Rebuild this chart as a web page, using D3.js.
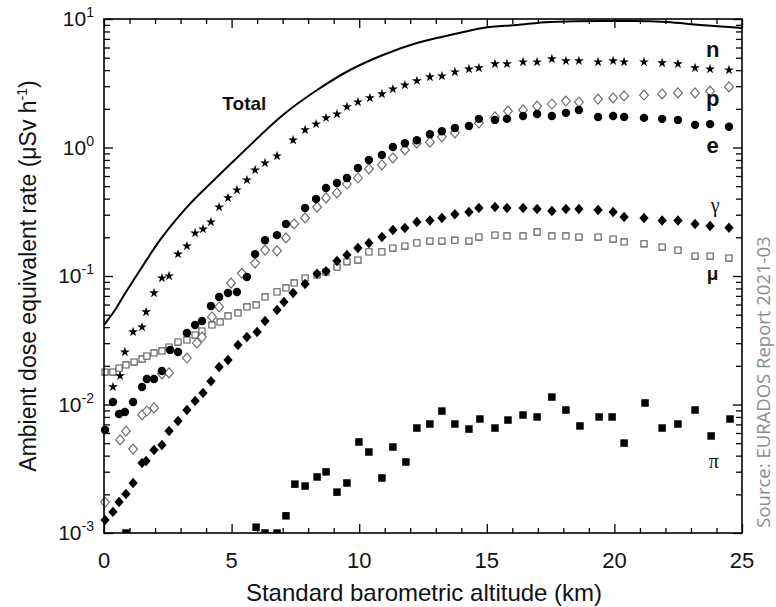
<!DOCTYPE html>
<html>
<head>
<meta charset="utf-8">
<script src="https://cdn.jsdelivr.net/npm/d3@7"></script>
<style>
  html, body { margin: 0; padding: 0; background: #fff; }
  svg { display: block; }
</style>
</head>
<body>
<svg id="chart" width="776" height="607"></svg>
<script>
// Ambient dose equivalent rate by particle type vs. altitude
// Each series: [altitude km, rate µSv/h]
const totalPts = [
  [0, 0.0416], [0.43, 0.0543], [0.74, 0.0687], [1.41, 0.111], [2.19, 0.190],
  [3.25, 0.344], [4.43, 0.589], [5.53, 0.957], [7.01, 1.79], [8.35, 2.80],
  [9.64, 4.01], [10.93, 5.25], [12.26, 6.50], [13.56, 7.50], [14.85, 8.51],
  [16.18, 8.98], [17.48, 9.48], [19.44, 9.65], [20.73, 9.65], [22.06, 9.48],
  [23.35, 8.98], [25.0, 8.51]
];
const neutronPts = [
  [0.35, 0.0137], [0.63, 0.0167], [0.82, 0.0256], [1.14, 0.0367], [1.49, 0.040],
  [1.65, 0.0525], [1.96, 0.0738], [2.27, 0.0964], [2.55, 0.100], [2.90, 0.148],
  [3.25, 0.171], [3.57, 0.216], [3.88, 0.232], [4.19, 0.263], [4.51, 0.344],
  [4.86, 0.405], [5.21, 0.467], [5.60, 0.558], [5.92, 0.668], [6.31, 0.757],
  [6.78, 0.859], [7.41, 1.14], [7.88, 1.37], [8.31, 1.52], [8.70, 1.70],
  [9.13, 1.82], [9.52, 2.07], [9.95, 2.26], [10.42, 2.43], [10.89, 2.61],
  [11.32, 2.85], [11.79, 3.06], [12.26, 3.30], [12.77, 3.54], [13.24, 3.60],
  [13.75, 3.87], [14.30, 4.08], [14.69, 4.16], [15.32, 4.47], [15.79, 4.47],
  [16.42, 4.63], [16.97, 4.63], [17.55, 4.89], [18.10, 4.72], [18.61, 4.72],
  [19.36, 4.63], [19.95, 4.72], [20.38, 4.63], [21.16, 4.63], [21.87, 4.55],
  [22.49, 4.47], [23.16, 4.16], [23.75, 4.08], [24.49, 4.01]
];
const protonPts = [
  [0.04, 0.00174], [0.63, 0.0053], [0.86, 0.0062], [1.14, 0.0045], [1.49, 0.0083],
  [1.68, 0.0089], [1.96, 0.0094], [2.27, 0.0173], [2.55, 0.0176], [3.25, 0.0230],
  [3.64, 0.0301], [3.84, 0.0335], [4.23, 0.048], [4.51, 0.0574], [4.98, 0.088],
  [5.40, 0.105], [5.92, 0.126], [6.31, 0.159], [6.78, 0.157], [7.13, 0.198],
  [7.45, 0.254], [7.88, 0.283], [8.35, 0.344], [8.70, 0.405], [9.13, 0.443],
  [9.52, 0.520], [9.95, 0.579], [10.38, 0.681], [10.89, 0.731], [11.32, 0.829],
  [11.79, 0.957], [12.26, 1.08], [12.77, 1.10], [13.24, 1.21], [13.75, 1.30],
  [14.69, 1.55], [15.32, 1.73], [15.83, 1.92], [16.42, 1.96], [16.97, 2.10],
  [17.55, 2.18], [18.10, 2.30], [18.61, 2.26], [19.36, 2.38], [19.95, 2.43],
  [20.38, 2.52], [21.16, 2.56], [21.87, 2.61], [22.49, 2.66], [23.16, 2.66],
  [23.75, 2.75], [24.49, 2.96]
];
const electronPts = [
  [0.04, 0.00634], [0.35, 0.01045], [0.59, 0.00843], [0.82, 0.00875], [1.14, 0.01045],
  [1.49, 0.0137], [1.68, 0.0158], [1.96, 0.0158], [2.27, 0.0182], [2.59, 0.0266],
  [2.90, 0.0256], [3.25, 0.036], [3.57, 0.0416], [3.84, 0.0447], [4.19, 0.0585],
  [4.51, 0.0687], [4.86, 0.0738], [5.21, 0.0752], [5.60, 0.0982], [5.92, 0.148],
  [6.31, 0.190], [6.78, 0.208], [7.13, 0.254], [7.88, 0.338], [8.31, 0.397],
  [8.70, 0.484], [9.13, 0.530], [9.52, 0.579], [9.95, 0.692], [10.38, 0.800],
  [10.89, 0.875], [11.32, 1.01], [11.79, 1.08], [12.26, 1.14], [12.77, 1.27],
  [13.24, 1.34], [13.75, 1.42], [14.30, 1.47], [14.69, 1.67], [15.32, 1.64],
  [15.79, 1.67], [16.42, 1.76], [16.97, 1.82], [17.55, 1.76], [18.10, 1.86],
  [18.61, 1.96], [19.36, 1.73], [19.95, 1.76], [20.38, 1.73], [21.16, 1.70],
  [21.87, 1.67], [22.49, 1.64], [23.16, 1.50], [23.75, 1.52], [24.49, 1.45]
];
const photonPts = [
  [0.04, 0.00126], [0.35, 0.00146], [0.59, 0.00174], [0.86, 0.00201], [1.14, 0.00245],
  [1.49, 0.00351], [1.65, 0.00363], [1.96, 0.00442], [2.27, 0.00484], [2.55, 0.00622],
  [2.90, 0.00745], [3.25, 0.00907], [3.57, 0.01064], [3.88, 0.0123], [4.19, 0.0152],
  [4.51, 0.0196], [4.86, 0.0222], [5.25, 0.0290], [5.60, 0.0335], [6.00, 0.0367],
  [6.31, 0.0447], [6.78, 0.0543], [7.05, 0.0628], [7.41, 0.0738], [7.88, 0.0867],
  [8.35, 0.104], [8.70, 0.109], [9.13, 0.131], [9.52, 0.146], [9.95, 0.165],
  [10.38, 0.181], [10.89, 0.201], [11.32, 0.228], [11.79, 0.236], [12.26, 0.263],
  [12.77, 0.270], [13.24, 0.283], [13.75, 0.303], [14.30, 0.315], [14.69, 0.338],
  [15.32, 0.344], [15.79, 0.338], [16.42, 0.338], [16.97, 0.332], [17.55, 0.321],
  [18.10, 0.332], [18.61, 0.332], [19.36, 0.326], [19.95, 0.315], [20.38, 0.288],
  [21.16, 0.283], [21.87, 0.270], [22.49, 0.270], [23.16, 0.254], [23.75, 0.245],
  [24.49, 0.237]
];
const muonPts = [
  [0.04, 0.0179], [0.35, 0.0179], [0.59, 0.0192], [0.86, 0.0203], [1.18, 0.0214],
  [1.49, 0.0226], [1.68, 0.0238], [1.96, 0.0252], [2.27, 0.0261], [2.55, 0.0280],
  [2.90, 0.0306], [3.25, 0.0318], [3.57, 0.0347], [3.84, 0.0373], [4.23, 0.0416],
  [4.55, 0.0439], [4.86, 0.0489], [5.25, 0.0516], [5.60, 0.0574], [5.96, 0.0595],
  [6.31, 0.0687], [6.78, 0.0752], [7.13, 0.0807], [7.45, 0.0883], [7.88, 0.0964],
  [8.35, 0.102], [8.70, 0.107], [9.13, 0.117], [9.52, 0.129], [9.95, 0.133],
  [10.38, 0.154], [10.89, 0.154], [11.32, 0.165], [11.79, 0.171], [12.26, 0.181],
  [12.77, 0.187], [13.24, 0.187], [13.75, 0.190], [14.30, 0.187], [14.69, 0.201],
  [15.32, 0.208], [15.79, 0.205], [16.42, 0.205], [16.97, 0.220], [17.55, 0.205],
  [18.10, 0.205], [18.61, 0.201], [19.36, 0.201], [19.95, 0.194], [20.38, 0.184],
  [21.16, 0.178], [21.87, 0.168], [22.49, 0.159], [23.16, 0.143], [23.75, 0.143],
  [24.49, 0.138]
];
const pionPts = [
  [0.86, 0.00100], [5.96, 0.00111], [6.31, 0.00100], [6.78, 0.00100], [7.13, 0.00136],
  [7.48, 0.00240], [7.88, 0.00232], [8.35, 0.00273], [8.70, 0.00299], [9.13, 0.00208],
  [9.52, 0.00245], [9.99, 0.00511], [10.38, 0.00427], [10.89, 0.00268], [11.32, 0.00467],
  [11.83, 0.00357], [12.26, 0.00656], [12.77, 0.00705], [13.24, 0.00889], [13.75, 0.00705],
  [14.30, 0.00644], [14.73, 0.00771], [15.32, 0.00656], [15.83, 0.00757], [16.42, 0.00828],
  [16.97, 0.00800], [17.55, 0.01143], [18.10, 0.00906], [18.65, 0.00681], [19.40, 0.00800],
  [19.91, 0.00800], [20.38, 0.00501], [21.20, 0.01028], [21.87, 0.00656], [22.49, 0.00705],
  [23.16, 0.00906], [23.79, 0.00569], [24.53, 0.00771]
];

const xTicksMajor = [0, 5, 10, 15, 20, 25];
const yDecades = [1e-3, 1e-2, 1e-1, 1e0, 1e1];
const yExponents = ["-3", "-2", "-1", "0", "1"];

const xTitle = "Standard barometric altitude (km)";
const yTitle = "Ambient dose equivalent rate (\u03BCSv h";
const sourceNote = "Source: EURADOS Report 2021-03";

// Layout
const L = 104, R = 742, T = 19, B = 533;
const svg = d3.select("#chart");
const sans = "'Liberation Sans', Arial, Helvetica, sans-serif";
const serif = "'Liberation Serif', 'Times New Roman', serif";

const x = d3.scaleLinear().domain([0, 25]).range([L, R]);
const y = d3.scaleLog().domain([1e-3, 1e1]).range([B, T]);

// Clip marks at the baseline only
svg.append("defs").append("clipPath").attr("id", "plotClip")
  .append("rect").attr("x", 0).attr("y", T - 10).attr("width", 776).attr("height", B - T + 10);

const marks = svg.append("g").attr("clip-path", "url(#plotClip)");

// Total dose line
marks.append("path")
  .datum(totalPts)
  .attr("fill", "none")
  .attr("stroke", "#000")
  .attr("stroke-width", 2)
  .attr("d", d3.line().x(d => x(d[0])).y(d => y(d[1])).curve(d3.curveMonotoneX));

function drawSymbols(data, type, size, fill, stroke, sw) {
  marks.append("g").selectAll("path").data(data).join("path")
    .attr("d", d3.symbol().type(type).size(size))
    .attr("transform", d => `translate(${x(d[0])},${y(d[1])})`)
    .attr("fill", fill)
    .attr("stroke", stroke)
    .attr("stroke-width", sw);
}

// Diamond shape (slightly taller than wide)
const diamond = {
  draw(ctx, size) {
    const h = Math.sqrt(size) / 2, w = h * 0.88;
    ctx.moveTo(0, -h); ctx.lineTo(w, 0); ctx.lineTo(0, h); ctx.lineTo(-w, 0); ctx.closePath();
  }
};

drawSymbols(muonPts, d3.symbolSquare, 38, "#fff", "#555", 1.1);
drawSymbols(photonPts, diamond, 110, "#000", "none", 0);
drawSymbols(protonPts, diamond, 100, "#fff", "#666", 1.1);
drawSymbols(electronPts, d3.symbolCircle, 56, "#000", "none", 0);
drawSymbols(neutronPts, d3.symbolStar, 30, "#000", "none", 0);
drawSymbols(pionPts, d3.symbolSquare, 56, "#000", "none", 0);

// Axes: ticks point inward on all four sides
const minorY = [];
for (let e = -3; e < 1; e++) for (let m = 2; m <= 9; m++) minorY.push(m * Math.pow(10, e));
const minorX = d3.range(0, 26).filter(v => v % 5 !== 0);

function styleAxis(g) {
  g.select(".domain").remove();
  g.selectAll(".tick line").attr("stroke", "#000").attr("stroke-width", 1.3);
  g.selectAll(".tick text").remove();
}

svg.append("g").attr("transform", `translate(${L},0)`)
  .call(d3.axisRight(y).tickValues(minorY).tickSize(6).tickFormat("")).call(styleAxis);
svg.append("g").attr("transform", `translate(${L},0)`)
  .call(d3.axisRight(y).tickValues(yDecades).tickSize(9).tickFormat("")).call(styleAxis);
svg.append("g").attr("transform", `translate(${R},0)`)
  .call(d3.axisLeft(y).tickValues(minorY).tickSize(6).tickFormat("")).call(styleAxis);
svg.append("g").attr("transform", `translate(${R},0)`)
  .call(d3.axisLeft(y).tickValues(yDecades).tickSize(9).tickFormat("")).call(styleAxis);

svg.append("g").attr("transform", `translate(0,${B})`)
  .call(d3.axisTop(x).tickValues(minorX).tickSize(5).tickFormat("")).call(styleAxis);
svg.append("g").attr("transform", `translate(0,${B})`)
  .call(d3.axisTop(x).tickValues(xTicksMajor).tickSize(9).tickFormat("")).call(styleAxis);
svg.append("g").attr("transform", `translate(0,${T})`)
  .call(d3.axisBottom(x).tickValues(minorX).tickSize(5).tickFormat("")).call(styleAxis);
svg.append("g").attr("transform", `translate(0,${T})`)
  .call(d3.axisBottom(x).tickValues(xTicksMajor).tickSize(9).tickFormat("")).call(styleAxis);

// Frame
svg.append("rect").attr("x", L).attr("y", T).attr("width", R - L).attr("height", B - T)
  .attr("fill", "none").attr("stroke", "#000").attr("stroke-width", 1.6);

// X tick labels
svg.append("g").selectAll("text").data(xTicksMajor).join("text")
  .attr("x", d => x(d)).attr("y", B + 35)
  .attr("text-anchor", "middle")
  .attr("font-family", sans).attr("font-size", 22).attr("fill", "#111")
  .text(d => d);

// Y tick labels: 10 with superscript exponent
yDecades.forEach((v, i) => {
  const t = svg.append("text")
    .attr("x", 94).attr("y", y(v) + 7)
    .attr("text-anchor", "end")
    .attr("font-family", sans).attr("font-size", 21).attr("fill", "#111");
  t.append("tspan").text("10");
  t.append("tspan").attr("dy", -9).attr("font-size", 14).text(yExponents[i]);
});

// Axis titles
svg.append("text")
  .attr("x", 424).attr("y", 601)
  .attr("text-anchor", "middle")
  .attr("font-family", sans).attr("font-size", 24).attr("fill", "#111")
  .text(xTitle);

const yt = svg.append("text")
  .attr("transform", `translate(36,${(T + B) / 2}) rotate(-90)`)
  .attr("text-anchor", "middle")
  .attr("font-family", sans).attr("font-size", 23).attr("fill", "#111");
yt.append("tspan").text(yTitle);
yt.append("tspan").attr("dy", -9).attr("font-size", 14).text("-1");
yt.append("tspan").attr("dy", 9).text(")");

// Series labels
const seriesLabels = [
  { text: "Total", x: 5.5, v: 2.22, font: sans, weight: "bold", size: 19 },
  { text: "n", x: 23.85, v: 5.74, font: sans, weight: "bold", size: 22 },
  { text: "p", x: 23.85, v: 2.38, font: sans, weight: "bold", size: 22 },
  { text: "e", x: 23.85, v: 1.03, font: sans, weight: "bold", size: 22 },
  { text: "\u03B3", x: 23.95, v: 0.357, font: serif, weight: "normal", size: 20 },
  { text: "\u03BC", x: 23.85, v: 0.105, font: sans, weight: "bold", size: 19 },
  { text: "\u03C0", x: 23.9, v: 0.00363, font: serif, weight: "normal", size: 20 }
];
svg.append("g").selectAll("text").data(seriesLabels).join("text")
  .attr("x", d => x(d.x)).attr("y", d => y(d.v) + 7)
  .attr("text-anchor", "middle")
  .attr("font-family", d => d.font).attr("font-weight", d => d.weight)
  .attr("font-size", d => d.size).attr("fill", "#111")
  .text(d => d.text);

// Source note
svg.append("text")
  .attr("transform", "translate(770,382) rotate(-90)")
  .attr("text-anchor", "middle")
  .attr("font-family", "'Open Sans', sans-serif").attr("font-size", 18.5).attr("fill", "#8c8c8c")
  .text(sourceNote);
</script>
</body>
</html>
